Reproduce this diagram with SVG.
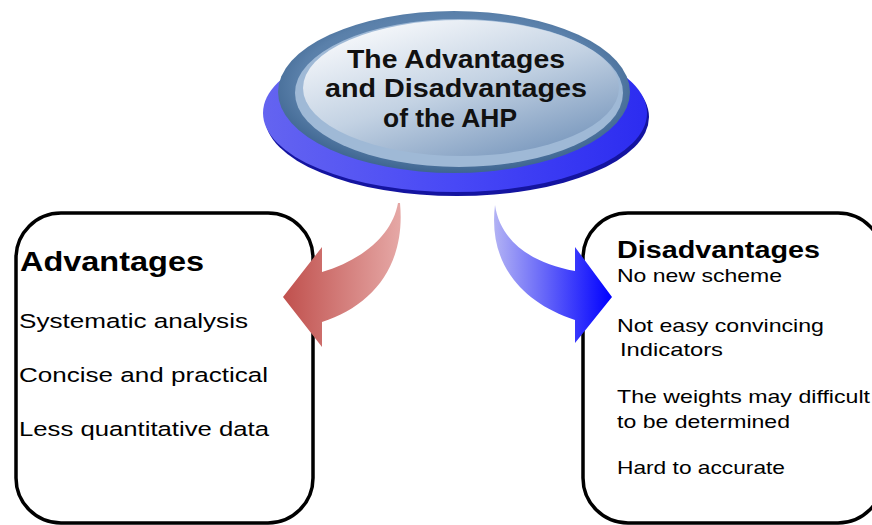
<svg xmlns="http://www.w3.org/2000/svg" width="872" height="525" viewBox="0 0 872 525">
<style>
  .box { fill: #ffffff; stroke: #000000; stroke-width: 3.5; }
  .title { font-family: "Liberation Sans", Arial, sans-serif; font-weight: bold; font-size: 26px; fill: #111111; text-anchor: middle; }
  .head { font-family: "Liberation Sans", Arial, sans-serif; font-weight: bold; fill: #000000; }
  .item { font-family: "Liberation Sans", Arial, sans-serif; font-size: 20.5px; fill: #000000; }
  .item2 { font-family: "Liberation Sans", Arial, sans-serif; font-size: 19px; fill: #000000; }
</style>
<defs>
  <linearGradient id="baseGrad" x1="0" y1="0" x2="1" y2="0">
    <stop offset="0" stop-color="#6464f0"/>
    <stop offset="0.5" stop-color="#4848f6"/>
    <stop offset="1" stop-color="#2c2cf0"/>
  </linearGradient>
  <radialGradient id="capGrad" cx="0.5" cy="0.45" r="0.55">
    <stop offset="0" stop-color="#7d9ec4"/>
    <stop offset="0.8" stop-color="#5a80aa"/>
    <stop offset="1" stop-color="#3e6590"/>
  </radialGradient>
  <linearGradient id="faceGrad" x1="0.2" y1="0.1" x2="0.85" y2="1">
    <stop offset="0" stop-color="#f2f5f9"/>
    <stop offset="0.45" stop-color="#c3d2e3"/>
    <stop offset="1" stop-color="#7393ba"/>
  </linearGradient>
  <linearGradient id="redGrad" gradientUnits="userSpaceOnUse" x1="283" y1="0" x2="402" y2="0">
    <stop offset="0" stop-color="#c0504d"/>
    <stop offset="1" stop-color="#e6a9a7"/>
  </linearGradient>
  <linearGradient id="blueGrad" gradientUnits="userSpaceOnUse" x1="493" y1="0" x2="612" y2="0">
    <stop offset="0" stop-color="#b4b4f4"/>
    <stop offset="1" stop-color="#0000ff"/>
  </linearGradient>
</defs>

<g id="title">
  <ellipse cx="457" cy="117" rx="192" ry="79" fill="#1414a0"/>
  <ellipse cx="455" cy="113" rx="192" ry="79" fill="url(#baseGrad)"/>
  <ellipse cx="454" cy="92" rx="176" ry="81" fill="url(#capGrad)"/>
  <ellipse cx="459" cy="93" rx="164" ry="74" fill="#9fb9d6"/>
  <ellipse cx="461" cy="88" rx="158" ry="68" fill="url(#faceGrad)"/>
  <text class="title" x="456" y="68" textLength="218" lengthAdjust="spacingAndGlyphs">The Advantages</text>
  <text class="title" x="456" y="97" textLength="262" lengthAdjust="spacingAndGlyphs">and Disadvantages</text>
  <text class="title" x="450" y="127" textLength="134" lengthAdjust="spacingAndGlyphs">of the AHP</text>
</g>

<g id="advantages">
  <rect class="box" x="16" y="213" width="297" height="310" rx="45" ry="45"/>
  <text class="head" x="20" y="271" font-size="28" textLength="184" lengthAdjust="spacingAndGlyphs">Advantages</text>
  <text class="item" x="19" y="328" textLength="229" lengthAdjust="spacingAndGlyphs">Systematic analysis</text>
  <text class="item" x="19" y="382" textLength="249" lengthAdjust="spacingAndGlyphs">Concise and practical</text>
  <text class="item" x="19" y="436" textLength="250" lengthAdjust="spacingAndGlyphs">Less quantitative data</text>
</g>

<g id="disadvantages">
  <rect class="box" x="583" y="213" width="300" height="310" rx="45" ry="45"/>
  <text class="head" x="617" y="258" font-size="24" textLength="203" lengthAdjust="spacingAndGlyphs">Disadvantages</text>
  <text class="item2" x="617" y="282" textLength="165" lengthAdjust="spacingAndGlyphs">No new scheme</text>
  <text class="item2" x="617" y="332" textLength="207" lengthAdjust="spacingAndGlyphs">Not easy convincing</text>
  <text class="item2" x="620" y="356" textLength="103" lengthAdjust="spacingAndGlyphs">Indicators</text>
  <text class="item2" x="617" y="403" textLength="253" lengthAdjust="spacingAndGlyphs">The weights may difficult</text>
  <text class="item2" x="617" y="428" textLength="173" lengthAdjust="spacingAndGlyphs">to be determined</text>
  <text class="item2" x="617" y="474" textLength="168" lengthAdjust="spacingAndGlyphs">Hard to accurate</text>
</g>

<g id="connectors">
  <path d="M 398,203 C 392,236 362,260 322,272 L 322,247 L 283,297 L 322,347 L 322,322 C 372,306 406,266 400,203 Z" fill="url(#redGrad)"/>
  <path d="M 495,205 C 500,240 530,263 575,271 L 575,247 L 612,297 L 575,343 L 575,320 C 520,302 488,262 495,205 Z" fill="url(#blueGrad)"/>
</g>
</svg>
